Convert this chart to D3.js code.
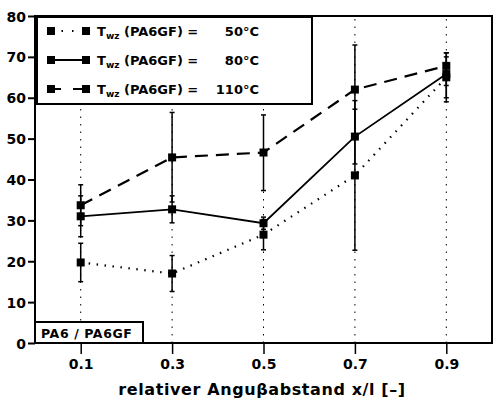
<html>
<head>
<meta charset="utf-8">
<script src="https://cdn.jsdelivr.net/npm/d3@7"></script>
<style>
  body { margin: 0; background: #fff; }
  text { font-family: "DejaVu Sans", sans-serif; font-weight: bold; fill: #000; }
</style>
</head>
<body>
<script>
	var width = 496;
	var height = 400;

	// data
	var xValues = [0.1, 0.3, 0.5, 0.7, 0.9];
	var xTicks = ["0.1", "0.3", "0.5", "0.7", "0.9"];
	var yTicks = [0, 10, 20, 30, 40, 50, 60, 70, 80];
	var seriesNames = ["50°C", "80°C", "110°C"];
	var mean50 = [19.7, 17, 26.5, 41, 65];
	var low50 = [15, 12.6, 22.8, 22.7, 60];
	var high50 = [24.4, 21.4, 30.2, 59.3, 70];
	var mean80 = [31, 32.7, 29.3, 50.5, 65.8];
	var low80 = [26, 29.4, 27.8, 43.8, 59];
	var high80 = [36, 36, 30.8, 57.2, 71];
	var mean110 = [33.7, 45.4, 46.6, 62, 67.8];
	var low110 = [28.7, 34.5, 37.3, 51, 63];
	var high110 = [38.7, 56.4, 55.8, 72.9, 71];

	var series = [
		{ name: seriesNames[0], mean: mean50, low: low50, high: high50, dash: "1.5,6.5" },
		{ name: seriesNames[1], mean: mean80, low: low80, high: high80, dash: null },
		{ name: seriesNames[2], mean: mean110, low: low110, high: high110, dash: "13,8" }
	];

	var svg = d3.select("body").append("svg")
		.attr("width", width)
		.attr("height", height);

	var x = d3.scaleLinear().domain([0, 1]).range([35, 492]);
	var y = d3.scaleLinear().domain([0, 80]).range([343, 16]);

	// vertical dotted grid lines
	svg.selectAll(".grid").data(xValues).enter().append("line")
		.attr("x1", d => x(d)).attr("x2", d => x(d))
		.attr("y1", y(0)).attr("y2", y(80))
		.attr("stroke", "#000").attr("stroke-width", 1)
		.attr("stroke-dasharray", "1.5,6");

	// frame
	svg.append("rect")
		.attr("x", x(0)).attr("y", y(80))
		.attr("width", x(1) - x(0)).attr("height", y(0) - y(80))
		.attr("fill", "none").attr("stroke", "#000").attr("stroke-width", 2);

	// axes
	var yAxis = svg.append("g")
		.attr("transform", "translate(" + x(0) + ",0)")
		.call(d3.axisLeft(y).tickValues(yTicks).tickSize(7).tickPadding(2));
	yAxis.select(".domain").remove();
	yAxis.selectAll("line").attr("stroke-width", 2);
	yAxis.selectAll("text").style("font-size", "14px").attr("dy", "0.36em");

	var xAxis = svg.append("g")
		.attr("transform", "translate(0," + y(0) + ")")
		.call(d3.axisBottom(x).tickValues(xValues).tickFormat((d, i) => xTicks[i]).tickSize(11).tickPadding(5));
	xAxis.select(".domain").remove();
	xAxis.selectAll("line").attr("stroke-width", 1.5);
	xAxis.selectAll("text").style("font-size", "14px");

	// x axis title
	svg.append("text")
		.attr("x", 262).attr("y", 395)
		.attr("text-anchor", "middle")
		.style("font-size", "16px")
		.style("font-weight", "600")
		.style("letter-spacing", "0.6px")
		.text("relativer Anguβabstand x/l [–]");

	var line = d3.line().x((d, i) => x(xValues[i])).y(d => y(d));

	series.forEach(function (s) {
		var g = svg.append("g");
		// error bars
		xValues.forEach(function (xv, i) {
			g.append("line")
				.attr("x1", x(xv)).attr("x2", x(xv))
				.attr("y1", y(s.low[i])).attr("y2", y(s.high[i]))
				.attr("stroke", "#000").attr("stroke-width", 1.5);
			[s.low[i], s.high[i]].forEach(function (v) {
				g.append("line")
					.attr("x1", x(xv) - 2.5).attr("x2", x(xv) + 2.5)
					.attr("y1", y(v)).attr("y2", y(v))
					.attr("stroke", "#000").attr("stroke-width", 1.5);
			});
		});
		g.append("path")
			.attr("d", line(s.mean))
			.attr("fill", "none")
			.attr("stroke", "#000")
			.attr("stroke-width", s.dash && s.dash[0] == "1" ? 2.2 : 1.8)
			.attr("stroke-dasharray", s.dash);
		g.selectAll("rect").data(s.mean).enter().append("rect")
			.attr("x", (d, i) => x(xValues[i]) - 4)
			.attr("y", d => y(d) - 4)
			.attr("width", 8).attr("height", 8)
			.attr("fill", "#000");
	});

	// legend
	var legend = svg.append("g");
	legend.append("rect")
		.attr("x", 37).attr("y", 17).attr("width", 275).attr("height", 87)
		.attr("fill", "#fff").attr("stroke", "#000").attr("stroke-width", 2);
	series.forEach(function (s, i) {
		var ly = 31 + i * 29;
		legend.append("line")
			.attr("x1", 51).attr("x2", 86).attr("y1", ly).attr("y2", ly)
			.attr("stroke", "#000").attr("stroke-width", 1.8)
			.attr("stroke-dasharray", s.dash ? (i == 0 ? "1.5,9" : "10,12") : null);
		[51, 86].forEach(function (lx) {
			legend.append("rect")
				.attr("x", lx - 4).attr("y", ly - 4).attr("width", 8).attr("height", 8)
				.attr("fill", "#000");
		});
		var t = legend.append("text").attr("x", 97).attr("y", ly + 5).style("font-size", "13px");
		t.append("tspan").text("T");
		t.append("tspan").attr("dy", 3).style("font-size", "9px").text("wz");
		t.append("tspan").attr("dy", -3).text(" (PA6GF) =");
		legend.append("text")
			.attr("x", 259).attr("y", ly + 5)
			.attr("text-anchor", "end")
			.style("font-size", "13px")
			.text(s.name);
	});

	// material label
	svg.append("rect")
		.attr("x", 35).attr("y", 322).attr("width", 108).attr("height", 21)
		.attr("fill", "#fff").attr("stroke", "#000").attr("stroke-width", 2);
	svg.append("text")
		.attr("x", 41).attr("y", 338)
		.style("font-size", "12.5px")
		.style("letter-spacing", "0.6px")
		.attr("xml:space", "preserve")
		.text("PA6 / PA6GF");
</script>
</body>
</html>
